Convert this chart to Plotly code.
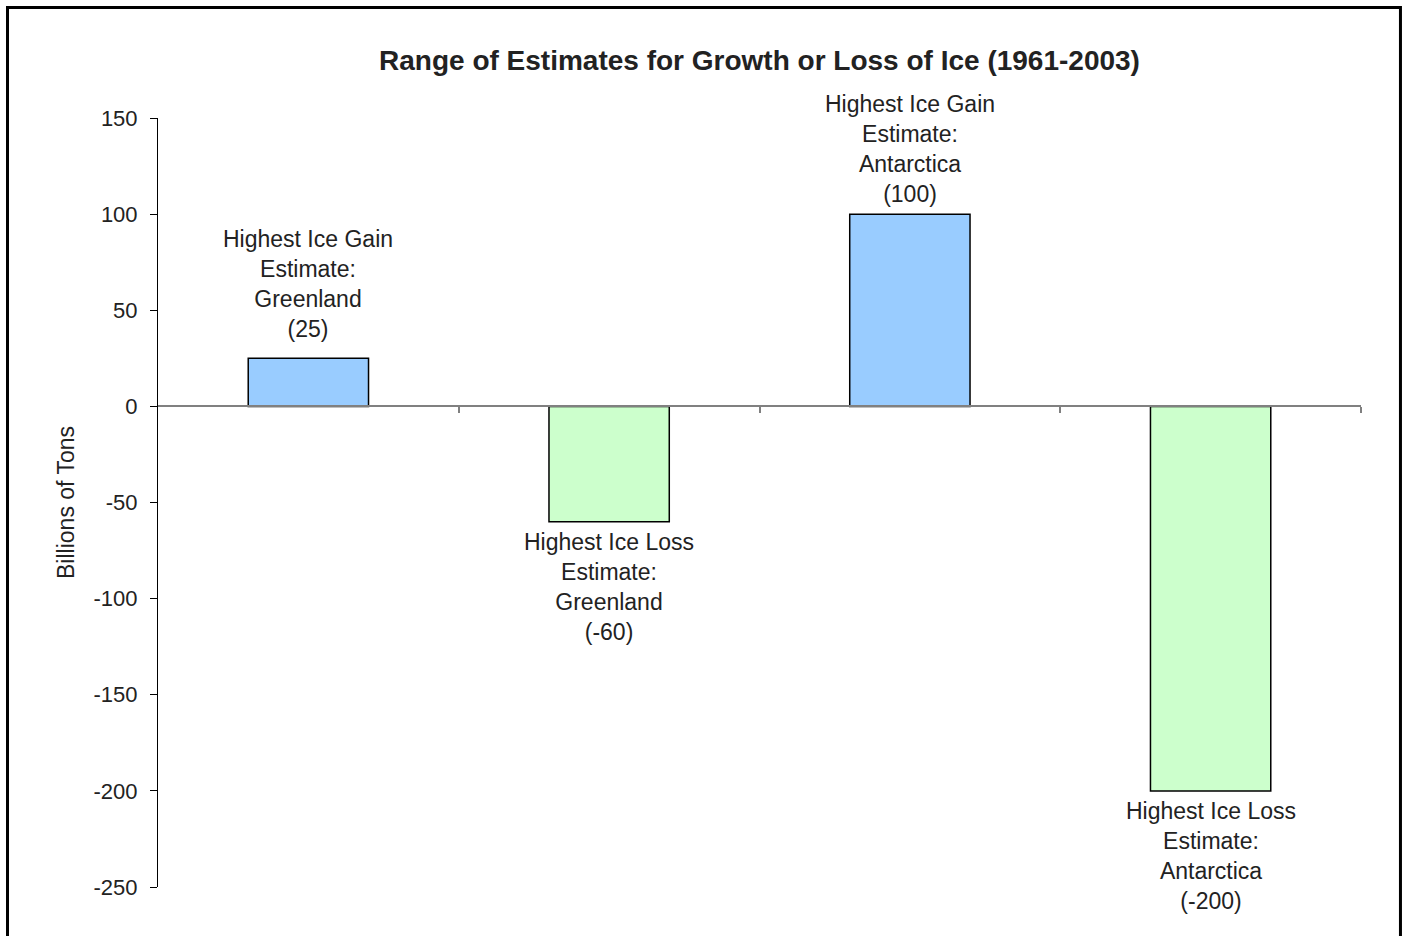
import plotly.graph_objects as go

# Dados
categorias = ['Gain Greenland', 'Loss Greenland', 'Gain Antarctica', 'Loss Antarctica']
valores = [25, -60, 100, -200]
rotulos = [
    'Highest Ice Gain<br>Estimate:<br>Greenland<br>(25)',
    'Highest Ice Loss<br>Estimate:<br>Greenland<br>(-60)',
    'Highest Ice Gain<br>Estimate:<br>Antarctica<br>(100)',
    'Highest Ice Loss<br>Estimate:<br>Antarctica<br>(-200)',
]
cores = ['#99CCFF', '#CCFFCC', '#99CCFF', '#CCFFCC']
y_ticks = [150, 100, 50, 0, -50, -100, -150, -200, -250]

# deslocamento vertical (px) de cada rótulo em relação à ponta da barra
deslocamentos = [14, -5, 5, -5]

FONTE = 'Arial, Liberation Sans, sans-serif'
posicoes = list(range(len(categorias)))

fig = go.Figure()
fig.add_trace(go.Bar(
    x=posicoes,
    y=valores,
    width=0.4,
    marker=dict(color=cores, line=dict(color='black', width=1.5)),
    hovertext=categorias,
    showlegend=False
))

# Rótulos acima / abaixo das barras
for x, v, txt, d in zip(posicoes, valores, rotulos, deslocamentos):
    fig.add_annotation(
        x=x, y=v, text=txt, showarrow=False,
        xref='x', yref='y',
        yanchor='bottom' if v > 0 else 'top',
        yshift=d,
        font=dict(family=FONTE, size=23, color='#222222')
    )

# Moldura externa
fig.add_shape(
    type='rect', xref='paper', yref='paper',
    x0=-0.1251, x1=1.0328, y0=-0.2, y1=1.1437,
    line=dict(color='black', width=3), fillcolor='rgba(0,0,0,0)'
)

fig.update_layout(
    width=1406, height=936,
    margin=dict(l=158, r=45, t=118, b=49),
    plot_bgcolor='white',
    paper_bgcolor='white',
    title=dict(
        text='<b>Range of Estimates for Growth or Loss of Ice (1961-2003)</b>',
        x=0.5, xref='paper', xanchor='center',
        y=1 - 60 / 936, yanchor='middle',
        font=dict(family=FONTE, size=28, color='#222222')
    ),
    font=dict(family=FONTE, color='#222222'),
)

fig.update_xaxes(
    range=[-0.5, 3.5],
    anchor='free', position=0.625,
    showline=True, linecolor='#808080', linewidth=1.5,
    tickmode='array', tickvals=[0.5, 1.5, 2.5, 3.5],
    ticks='outside', ticklen=6, tickcolor='#808080', tickwidth=1.5,
    showticklabels=False, showgrid=False, zeroline=False
)
fig.update_yaxes(
    range=[-250, 150],
    tickmode='array', tickvals=y_ticks, ticktext=[str(t) for t in y_ticks],
    showline=True, linecolor='black', linewidth=1,
    ticks='outside', ticklen=7, tickcolor='black',
    ticklabelstandoff=8,
    tickfont=dict(family=FONTE, size=22, color='#222222'),
    showgrid=False, zeroline=False,
    title=dict(text='Billions of Tons', standoff=12,
               font=dict(family=FONTE, size=23, color='#222222'))
)

# tira a margem padrão do body para a figura ocupar a janela inteira
fig.write_html('out.html', config={'displayModeBar': False},
               post_script="document.body.style.margin='0px';")
